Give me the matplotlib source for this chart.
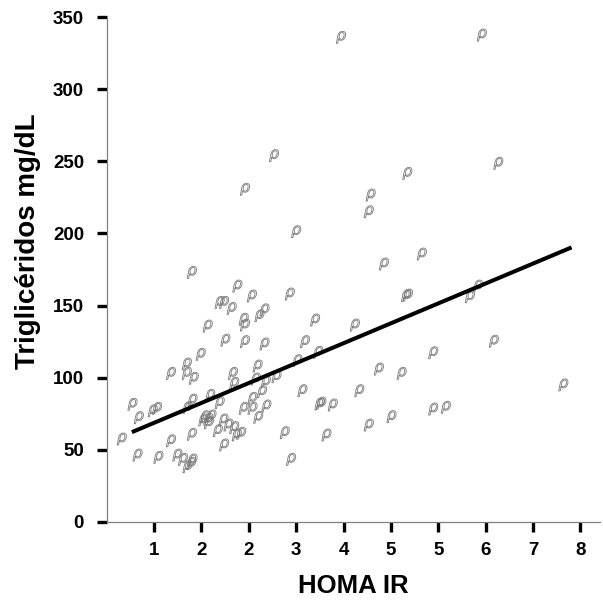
import matplotlib
matplotlib.use("Agg")
import matplotlib.pyplot as plt
import numpy as np

plt.rcParams['font.family'] = ['Liberation Sans', 'DejaVu Sans']

# Data (HOMA IR, triglycerides mg/dL)
homa = [3.71, 5.94, 6.20, 4.76, 4.18, 4.15, 3.00, 4.99, 4.39, 2.90, 4.74, 4.77,
        5.88, 5.75, 3.30, 3.93, 3.14, 3.35, 3.02, 5.17, 6.13, 4.31, 4.67, 3.10,
        4.00, 7.23, 3.37, 3.40, 3.58, 5.17, 5.37, 4.51, 4.15, 3.48, 2.92,
        2.65, 2.19, 1.35, 2.07, 1.79, 1.86, 1.98, 2.30, 2.50, 2.42, 2.17, 2.19,
        1.60, 1.88, 2.19, 2.50, 1.49, 2.39, 1.27, 1.02, 1.27, 1.38, 2.00, 2.02,
        2.36, 2.52, 2.69,
        0.41, 0.51, 0.73, 0.80, 1.36, 1.28, 1.64, 1.79, 1.56, 1.61, 1.66, 1.53,
        1.62, 1.85, 1.93, 2.02, 2.06, 2.13, 1.76, 1.86, 2.17, 2.31, 2.31, 2.46,
        2.53, 2.40, 2.82, 0.24, 0.49, 0.82, 1.02, 1.35, 1.12, 1.21, 1.28, 1.34,
        1.36]
tg = [335.9, 337.5, 248.6, 241.6, 226.6, 215.0, 201.2, 185.7, 178.8, 158.0, 156.8, 157.3,
      163.5, 156.1, 140.0, 136.5, 125.0, 117.6, 111.8, 117.3, 125.3, 106.0, 103.0, 91.0,
      91.0, 95.0, 81.8, 82.4, 81.1, 78.3, 79.5, 73.0, 67.2, 60.3, 43.4,
      253.9, 230.6, 173.0, 163.5, 152.2, 152.2, 148.0, 156.6, 147.0, 143.0, 140.5, 136.5,
      135.8, 126.0, 125.0, 123.4, 116.2, 108.1, 109.5, 103.0, 103.0, 99.6, 103.0, 96.1,
      99.1, 97.2, 100.7,
      81.6, 72.3, 77.1, 78.8, 84.5, 79.2, 87.8, 82.7, 73.0, 71.2, 73.5, 70.7,
      68.8, 70.7, 67.2, 65.4, 60.3, 61.5, 63.3, 53.4, 78.8, 85.7, 78.8, 90.3,
      80.4, 72.6, 61.9, 57.5, 46.4, 44.8, 56.3, 60.8, 46.4, 43.4, 38.3, 40.7,
      43.0]

# Regression line
fit_x = [0.40, 7.36]
fit_intercept = 54.9
fit_slope = 18.4

xtick_pos = [0.75, 1.5, 2.25, 3.0, 3.75, 4.5, 5.25, 6.0, 6.75, 7.5]
xtick_labels = ["1", "2", "2", "3", "4", "5", "5", "6", "7", "8"]
ytick_pos = [0, 50, 100, 150, 200, 250, 300, 350]

W = H = 603
fig = plt.figure(figsize=(W / 100, H / 100), dpi=100)
ax = fig.add_axes([106.6 / W, 81 / H, (600 - 106.6) / W, 505 / H])

ax.scatter(homa, tg, marker=r'$\rho$', s=75, facecolors='none',
           edgecolors='#7a7a7a', linewidths=0.6, clip_on=False, zorder=2)

fx = np.array(fit_x)
ax.plot(fx, fit_intercept + fit_slope * fx, color='black', lw=2.9,
        solid_capstyle='butt', zorder=3)

ax.set_xlim(0, 7.81)
ax.set_ylim(0, 350)

for s in ['top', 'right']:
    ax.spines[s].set_visible(False)
for s in ['left', 'bottom']:
    ax.spines[s].set_color('#808080')
    ax.spines[s].set_linewidth(0.9)

ax.set_xticks(xtick_pos)
ax.set_xticklabels(xtick_labels)
ax.set_yticks(ytick_pos)
ax.tick_params(axis='both', direction='out', length=7.2, width=2.4,
               color='black', labelsize=13.5)
ax.tick_params(axis='x', pad=7)
ax.tick_params(axis='y', pad=9)
for lab in ax.get_xticklabels() + ax.get_yticklabels():
    lab.set_fontweight('bold')

ax.set_xlabel("HOMA IR", fontsize=18.5, fontweight='bold', labelpad=11)
ax.set_ylabel("Triglicéridos mg/dL", fontsize=20, fontweight='bold')
ax.yaxis.set_label_coords(-0.133, 0.556)

fig.savefig("out.png", dpi=100)
